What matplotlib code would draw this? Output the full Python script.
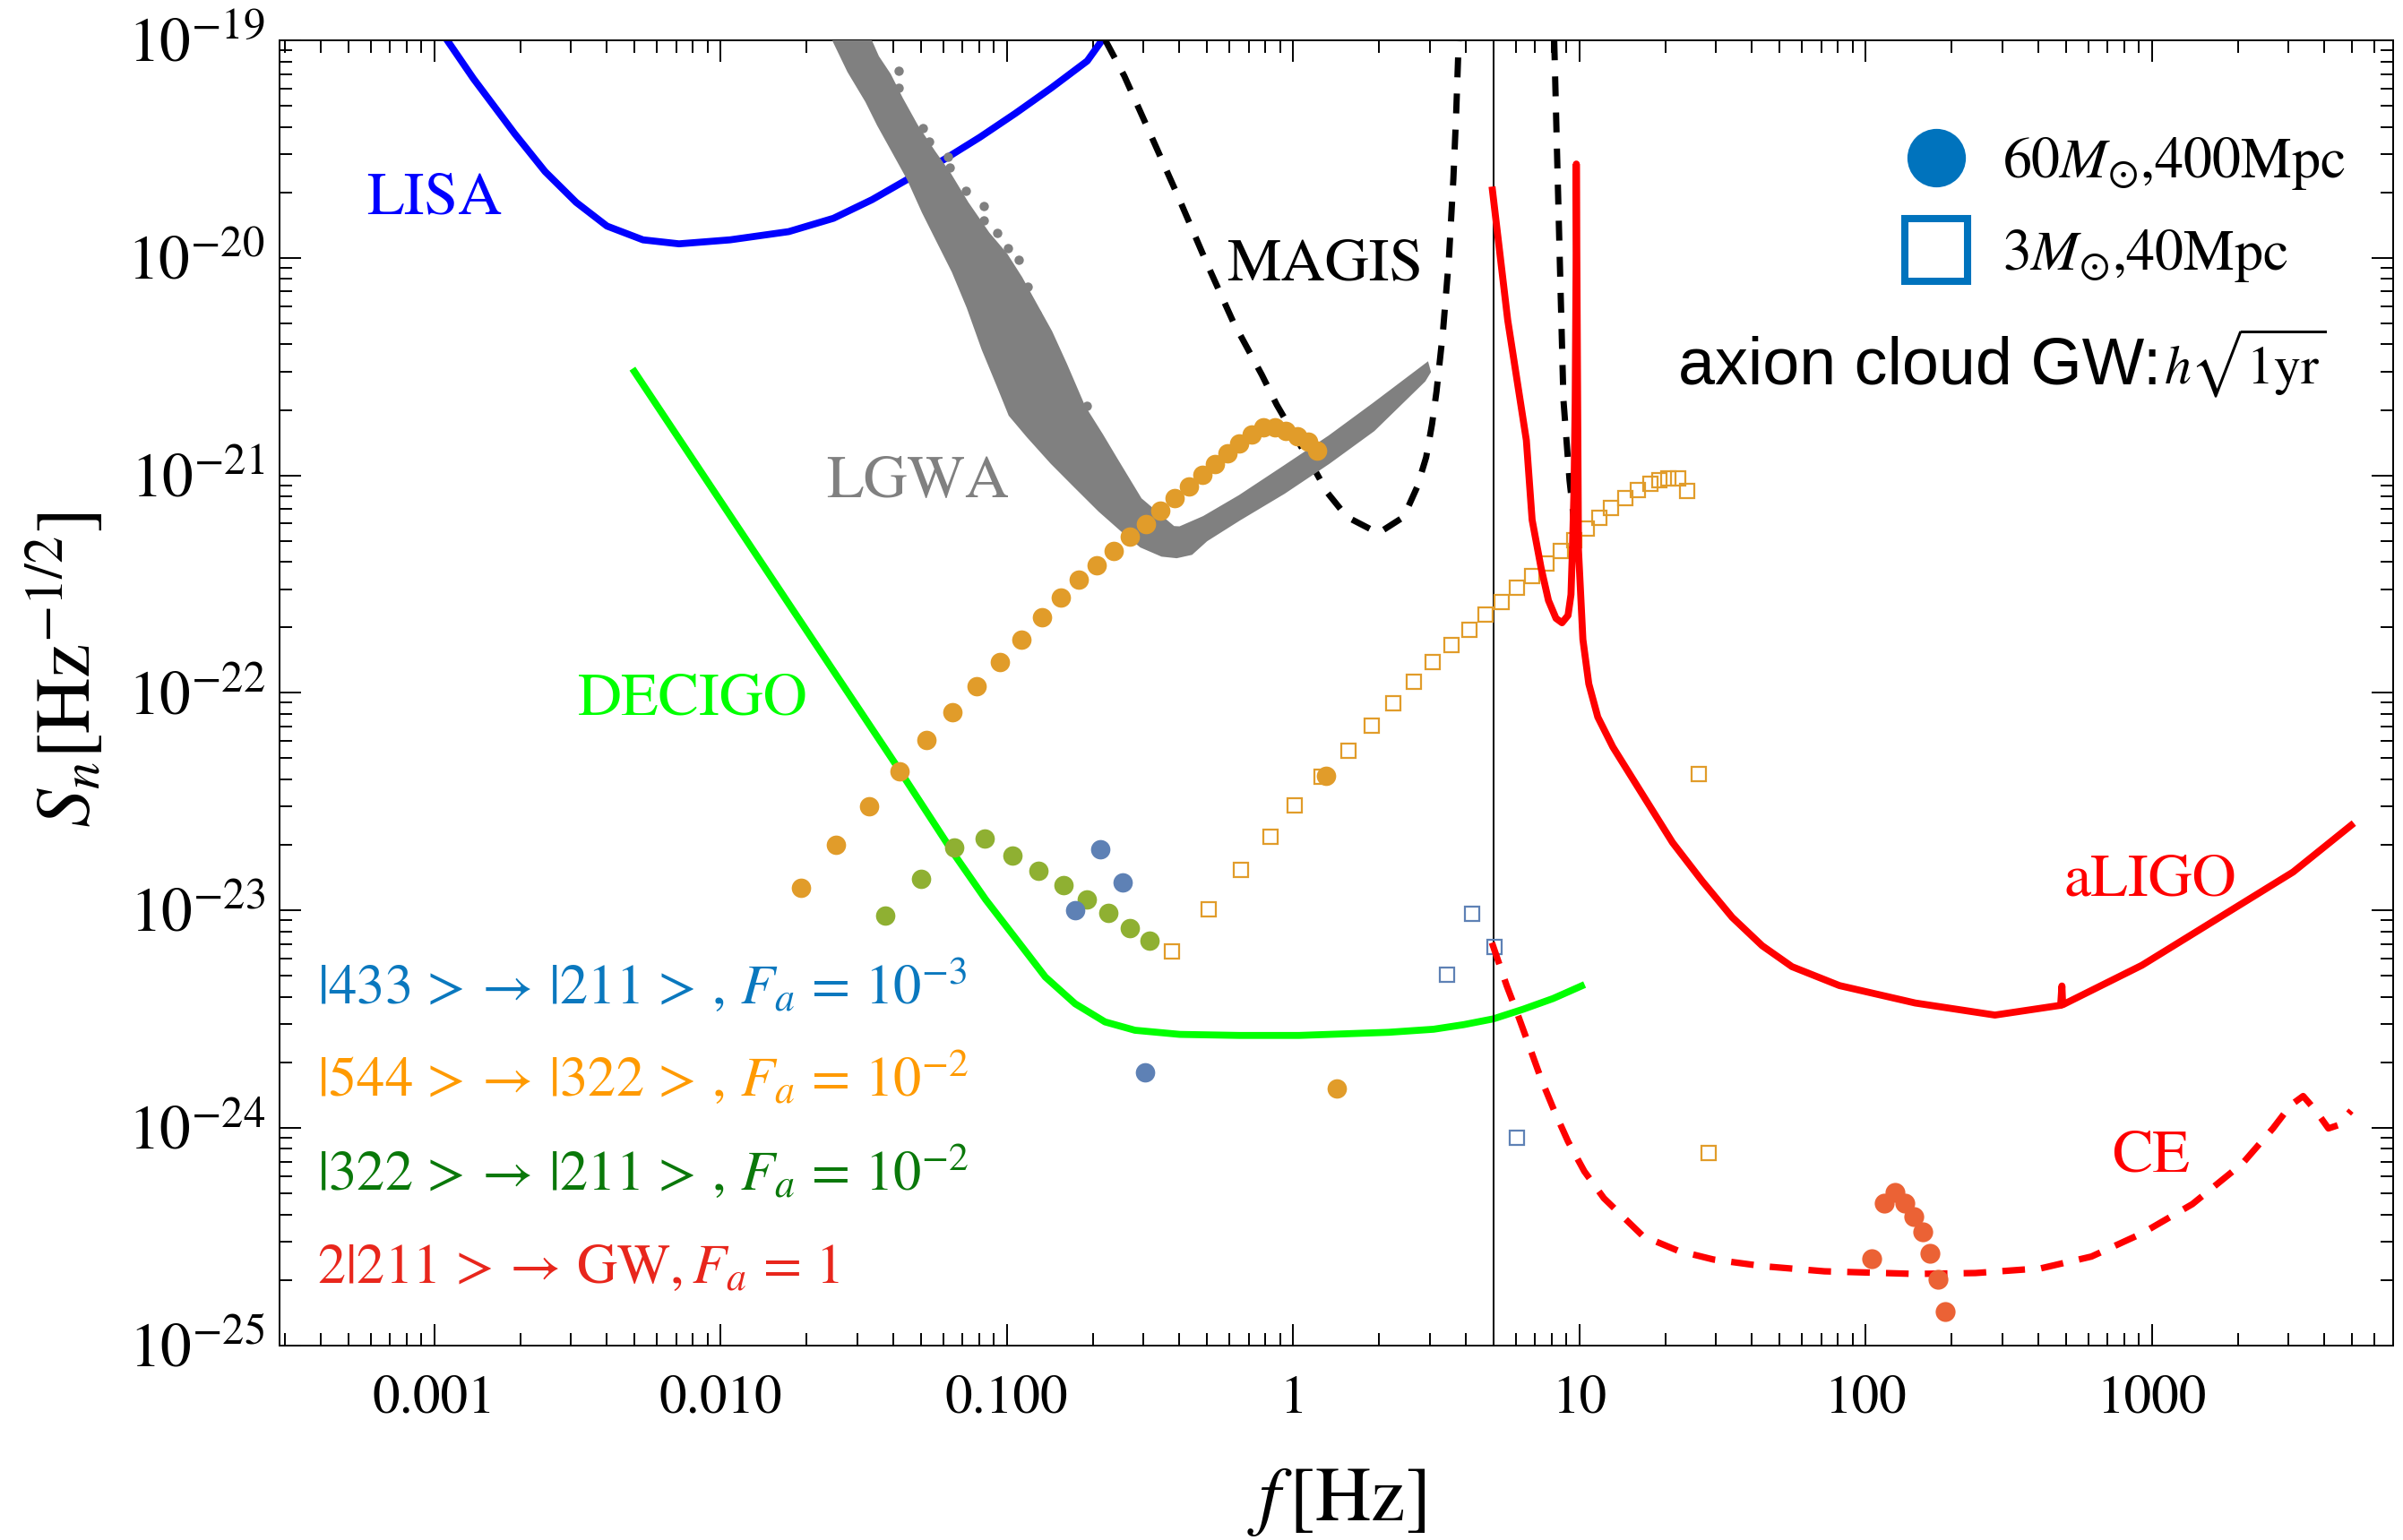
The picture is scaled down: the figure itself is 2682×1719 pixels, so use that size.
import numpy as np
import matplotlib
matplotlib.use("Agg")
import matplotlib.pyplot as plt
from matplotlib.lines import Line2D
from matplotlib.ticker import FixedLocator, FixedFormatter, LogLocator, NullFormatter

plt.rcParams['font.family'] = ['STIXGeneral', 'DejaVu Serif']
plt.rcParams['mathtext.fontset'] = 'stix'

# ---- detector curves ----
lisa_f = [1.11e-3, 1.37e-3, 1.91e-3, 2.44e-3, 3.13e-3, 4.01e-3, 5.36e-3, 7.16e-3, 1.08e-2,
          1.73e-2, 2.48e-2, 3.38e-2, 4.51e-2, 6.03e-2, 8.04e-2, 0.107, 0.143, 0.191, 0.215]
lisa_h = [1.0e-19, 6.67e-20, 3.72e-20, 2.49e-20, 1.80e-20, 1.40e-20, 1.21e-20, 1.16e-20, 1.21e-20,
          1.32e-20, 1.52e-20, 1.85e-20, 2.30e-20, 2.83e-20, 3.58e-20, 4.61e-20, 6.04e-20, 8.04e-20, 1.0e-19]

decigo_f = [5.0e-3, 1.727e-2, 4.10e-2, 6.55e-2, 8.44e-2, 0.1072, 0.1363, 0.1733, 0.2203, 0.2803,
            0.4018, 0.6494, 1.05, 2.159, 3.096, 3.936, 5.006, 6.364, 8.09, 10.17]
decigo_h = [3.0e-21, 2.58e-22, 4.67e-23, 1.81e-23, 1.12e-23, 7.45e-24, 4.94e-24, 3.72e-24, 3.07e-24, 2.81e-24,
            2.69e-24, 2.66e-24, 2.66e-24, 2.75e-24, 2.84e-24, 2.98e-24, 3.17e-24, 3.51e-24, 3.93e-24, 4.49e-24]

magis_f = [0.221, 0.2573, 0.3158, 0.3977, 0.4989, 0.6194, 0.7776, 0.877, 1.185, 1.320, 1.542, 1.985,
           2.435, 2.714, 2.916, 3.058, 3.17, 3.339, 3.50, 3.63, 3.71, 3.79]
magis_h = [1.0e-19, 6.86e-20, 3.76e-20, 1.90e-20, 9.48e-21, 5.04e-21, 2.90e-21, 2.11e-21, 1.07e-21, 8.30e-22,
           6.44e-22, 5.42e-22, 6.44e-22, 8.85e-22, 1.21e-21, 1.72e-21, 2.43e-21, 4.58e-21, 9.79e-21, 2.30e-20,
           4.47e-20, 1.0e-19]
magis2_f = [8.17, 8.37, 8.58, 8.80, 9.24, 9.70]
magis2_h = [1.0e-19, 2.82e-20, 7.91e-21, 2.22e-21, 9.50e-22, 5.31e-22]

aligo_f = [4.97, 5.62, 6.53, 6.84, 7.35, 7.80, 8.29, 8.70, 9.13, 9.35, 9.46, 9.58, 9.67, 9.74, 9.76,
           9.93, 10.29, 10.79, 11.60, 13.09, 16.64, 21.16, 26.90, 34.19, 43.5, 55.3, 81.0, 149.0, 283.0,
           480.0, 485.0, 488.0, 923.0, 1696.0, 3113.0, 4966.0]
aligo_h = [2.05e-20, 5.18e-21, 1.45e-21, 6.24e-22, 3.76e-22, 2.66e-22, 2.20e-22, 2.10e-22, 2.27e-22, 2.83e-22,
           4.55e-22, 8.57e-22, 2.14e-21, 8.91e-21, 2.70e-20, 4.55e-22, 1.76e-22, 1.10e-22, 7.74e-23, 5.64e-23,
           3.40e-23, 2.05e-23, 1.36e-23, 9.29e-24, 6.88e-24, 5.51e-24, 4.51e-24, 3.75e-24, 3.30e-24,
           3.66e-24, 4.49e-24, 3.68e-24, 5.59e-24, 9.16e-24, 1.50e-23, 2.46e-23]

ce_f = [4.95, 5.58, 6.06, 6.68, 7.35, 8.19, 9.13, 10.41, 12.18, 16.68, 22.16, 29.44, 44.1, 71.8, 149.0,
        242.0, 410.0, 615.0, 923.0, 1385.0, 2075.0, 2648.0, 3052.0, 3376.0, 3737.0, 4137.0, 4487.0, 4965.0]
ce_h = [7.10e-24, 4.49e-24, 3.38e-24, 2.38e-24, 1.68e-24, 1.19e-24, 8.66e-25, 6.31e-25, 4.75e-25, 3.18e-25,
        2.72e-25, 2.48e-25, 2.31e-25, 2.19e-25, 2.13e-25, 2.15e-25, 2.26e-25, 2.56e-25, 3.27e-25, 4.46e-25,
        6.87e-25, 9.94e-25, 1.27e-24, 1.40e-24, 1.20e-24, 9.94e-25, 1.03e-24, 1.20e-24]

# LGWA band outline (lower-left edge, right branch, upper-right edge)
lgwa_f = [0.02475, 0.02793, 0.03226, 0.03550, 0.04004, 0.04513, 0.05088, 0.05741, 0.06471, 0.07298,
          0.08231, 0.09278, 0.1022, 0.1180, 0.1430, 0.1733, 0.2101, 0.2544, 0.2938, 0.3478, 0.3921,
          0.4422, 0.4989, 0.6494, 0.9311, 1.335, 1.914, 2.880, 3.008, 2.949, 1.914, 1.335, 0.9311,
          0.6494, 0.4868, 0.4018, 0.3829, 0.2938, 0.2427, 0.2151, 0.1863, 0.1612, 0.1430, 0.1268,
          0.1125, 0.0997, 0.08634, 0.07298, 0.06318, 0.05602, 0.04851, 0.04303, 0.03906, 0.03550, 0.03351]
lgwa_h = [1.0e-19, 7.19e-20, 5.24e-20, 4.07e-20, 3.06e-20, 2.30e-20, 1.62e-20, 1.18e-20, 8.63e-21, 5.90e-21,
          3.79e-21, 2.59e-21, 1.89e-21, 1.51e-21, 1.14e-21, 8.84e-22, 6.87e-22, 5.50e-22, 4.70e-22, 4.27e-22,
          4.20e-22, 4.35e-22, 5.02e-22, 6.25e-22, 8.30e-22, 1.14e-21, 1.61e-21, 2.72e-21, 2.99e-21, 3.29e-21,
          2.14e-21, 1.51e-21, 1.10e-21, 8.04e-22, 6.44e-22, 5.77e-22, 5.79e-22, 7.79e-22, 1.18e-21, 1.54e-21,
          2.08e-21, 3.24e-21, 4.58e-21, 6.09e-21, 8.10e-21, 1.04e-20, 1.30e-20, 1.79e-20, 2.45e-20, 3.06e-20,
          4.07e-20, 5.41e-20, 6.97e-20, 8.42e-20, 1.0e-19]
# loose LGWA points on the upper-right side of the band
lgwa_dot_f = [0.04181, 0.04181, 0.05088, 0.05341, 0.06241, 0.06318, 0.07208, 0.08327, 0.08327, 0.09278,
              0.1010, 0.1098, 0.1180, 0.1268, 0.1501, 0.1908]
lgwa_dot_h = [7.23e-20, 6.04e-20, 3.94e-20, 3.42e-20, 2.92e-20, 2.61e-20, 2.03e-20, 1.73e-20, 1.48e-20, 1.30e-20,
              1.11e-20, 9.79e-21, 7.37e-21, 5.54e-21, 3.56e-21, 2.08e-21]

# ---- axion cloud GW signals ----
# 60 Msun, 400 Mpc (filled circles)
orange_dot_f = [0.01910, 0.02529, 0.03296, 0.04220, 0.05252, 0.06471, 0.07862, 0.09461, 0.1125, 0.1325,
                0.1544, 0.1788, 0.2060, 0.2362, 0.2696, 0.3055, 0.3436, 0.3865, 0.4313, 0.4811, 0.5334,
                0.5902, 0.6494, 0.7154, 0.7873, 0.8663, 0.9427, 1.033, 1.129, 1.213, 1.304, 1.419]
orange_dot_h = [1.269e-23, 2.003e-23, 3.013e-23, 4.34e-23, 6.05e-23, 8.17e-23, 1.076e-22, 1.39e-22, 1.762e-22,
                2.22e-22, 2.75e-22, 3.31e-22, 3.86e-22, 4.51e-22, 5.21e-22, 5.99e-22, 6.87e-22, 7.86e-22,
                8.91e-22, 1.004e-21, 1.132e-21, 1.264e-21, 1.396e-21, 1.534e-21, 1.656e-21, 1.665e-21,
                1.603e-21, 1.514e-21, 1.422e-21, 1.300e-21, 4.14e-23, 1.514e-24]
green_dot_f = [0.03770, 0.05029, 0.06552, 0.08372, 0.1046, 0.1292, 0.1581, 0.1907, 0.2268, 0.2690, 0.3158]
green_dot_h = [9.44e-24, 1.402e-23, 1.954e-23, 2.134e-23, 1.789e-23, 1.517e-23, 1.303e-23, 1.124e-23,
               9.75e-24, 8.30e-24, 7.26e-24]
blue_dot_f = [0.2116, 0.2544, 0.1733, 0.3047]
blue_dot_h = [1.912e-23, 1.350e-23, 1.006e-23, 1.793e-24]
red_dot_f = [105.3, 115.9, 126.6, 137.1, 147.4, 158.0, 168.2, 179.4, 189.2]
red_dot_h = [2.51e-25, 4.50e-25, 5.06e-25, 4.50e-25, 3.89e-25, 3.32e-25, 2.66e-25, 2.02e-25, 1.43e-25]

# 3 Msun, 40 Mpc (open squares)
orange_sq_f = [0.3783, 0.5060, 0.6575, 0.8357, 1.013, 1.257, 1.561, 1.883, 2.238, 2.636, 3.074, 3.576,
               4.130, 4.712, 5.354, 6.064, 6.839, 7.675, 8.596, 9.618, 10.59, 11.74, 12.93, 14.47, 15.97,
               17.65, 19.03, 20.46, 22.08, 23.80, 26.08, 28.23]
orange_sq_h = [6.46e-24, 1.015e-23, 1.531e-23, 2.184e-23, 3.044e-23, 4.11e-23, 5.43e-23, 7.04e-23, 8.92e-23,
               1.121e-22, 1.39e-22, 1.664e-22, 1.956e-22, 2.284e-22, 2.615e-22, 3.035e-22, 3.457e-22,
               3.948e-22, 4.48e-22, 5.05e-22, 5.68e-22, 6.35e-22, 7.09e-22, 7.86e-22, 8.55e-22, 9.11e-22,
               9.51e-22, 9.71e-22, 9.71e-22, 8.46e-22, 4.24e-23, 7.68e-25]
blue_sq_f = [4.211, 3.45, 5.064, 6.038]
blue_sq_h = [9.68e-24, 5.06e-24, 6.81e-24, 9.03e-25]

f_cut = 5.0

x_ticks = [1e-3, 1e-2, 1e-1, 1, 10, 100, 1000]
x_ticklabels = ['0.001', '0.010', '0.100', '1', '10', '100', '1000']
y_ticks = [1e-25, 1e-24, 1e-23, 1e-22, 1e-21, 1e-20, 1e-19]
y_ticklabels = [r'$10^{-25}$', r'$10^{-24}$', r'$10^{-23}$', r'$10^{-22}$',
                r'$10^{-21}$', r'$10^{-20}$', r'$10^{-19}$']

c_or = '#E19C2A'
c_gr = '#8FB032'
c_bl = '#5E81B5'
c_rd = '#EB6235'

fig = plt.figure(figsize=(26.82, 17.19), dpi=100)
ax = fig.add_axes([0.1165, 0.1264, 0.8793, 0.8474])
ax.set_xscale('log')
ax.set_yscale('log')

ax.plot(lisa_f, lisa_h, color='#0000FF', lw=5.6, zorder=2, solid_joinstyle='round')
ax.fill(lgwa_f, lgwa_h, color='#808080', lw=1.5, zorder=3)
ax.plot(lgwa_dot_f, lgwa_dot_h, ls='none', marker='o', ms=7.5, mfc='#808080', mew=0, zorder=3)
ax.plot(decigo_f, decigo_h, color='#00FF00', lw=5.6, zorder=2, solid_joinstyle='round')
ax.plot(magis_f, magis_h, color='black', lw=5.0, dashes=(3.2, 2.6), zorder=2.5)
ax.plot(magis2_f, magis2_h, color='black', lw=5.0, dashes=(3.2, 2.6), zorder=2.5)
ax.axvline(f_cut, color='black', lw=1.4, zorder=2)

ax.plot(orange_sq_f, orange_sq_h, ls='none', marker='s', ms=11, mfc='none', mec=c_or, mew=1.6, zorder=4)
ax.plot(blue_sq_f, blue_sq_h, ls='none', marker='s', ms=11, mfc='none', mec=c_bl, mew=1.6, zorder=4)
ax.plot(ce_f, ce_h, color='#FF0000', lw=5.2, dashes=(3.5, 2.5), zorder=4.5)
ax.plot(orange_dot_f, orange_dot_h, ls='none', marker='o', ms=15.6, mfc=c_or, mew=0, zorder=5)
ax.plot(green_dot_f, green_dot_h, ls='none', marker='o', ms=15.6, mfc=c_gr, mew=0, zorder=5)
ax.plot(blue_dot_f, blue_dot_h, ls='none', marker='o', ms=15.6, mfc=c_bl, mew=0, zorder=5)
ax.plot(red_dot_f, red_dot_h, ls='none', marker='o', ms=16, mfc=c_rd, mew=0, zorder=5)
ax.plot(aligo_f, aligo_h, color='#FF0000', lw=5.6, zorder=5.5, solid_joinstyle='round')

ax.set_xlim(2.89e-4, 6950)
ax.set_ylim(1e-25, 1e-19)

ax.xaxis.set_major_locator(FixedLocator(x_ticks))
ax.xaxis.set_major_formatter(FixedFormatter(x_ticklabels))
ax.xaxis.set_minor_locator(LogLocator(base=10, subs=np.arange(2, 10), numticks=30))
ax.xaxis.set_minor_formatter(NullFormatter())
ax.yaxis.set_major_locator(FixedLocator(y_ticks))
ax.yaxis.set_major_formatter(FixedFormatter(y_ticklabels))
ax.yaxis.set_minor_locator(LogLocator(base=10, subs=np.arange(2, 10), numticks=30))
ax.yaxis.set_minor_formatter(NullFormatter())
ax.tick_params(which='both', direction='in', top=True, right=True, width=1.4)
ax.tick_params(which='major', length=17)
ax.tick_params(which='minor', length=10)
ax.tick_params(axis='x', labelsize=44, pad=24)
ax.tick_params(axis='y', labelsize=50, pad=12)
for sp in ax.spines.values():
    sp.set_linewidth(1.4)

ax.set_xlabel(r'$f\,[\mathrm{Hz}]$', fontsize=62)
ax.xaxis.set_label_coords(0.5, -0.134)
ax.xaxis.label.set_verticalalignment('baseline')
ax.set_ylabel(r'$S_n[\mathrm{Hz}^{-1/2}]$', fontsize=62)
ax.yaxis.set_label_coords(-0.1007, 0.5174)
ax.yaxis.label.set_verticalalignment('center')

# detector names
ax.text(1.0e-3, 1.589e-20, 'LISA', color='#0000FF', fontsize=49, ha='center', va='baseline')
ax.text(1.29, 7.91e-21, 'MAGIS', color='black', fontsize=49, ha='center', va='baseline')
ax.text(0.0488, 7.92e-22, 'LGWA', color='#808080', fontsize=49, ha='center', va='baseline')
ax.text(7.99e-3, 7.96e-23, 'DECIGO', color='#00FF00', fontsize=49, ha='center', va='baseline')
ax.text(989, 1.17e-23, 'aLIGO', color='#FF0000', fontsize=49, ha='center', va='baseline')
ax.text(991, 6.29e-25, 'CE', color='#FF0000', fontsize=49, ha='center', va='baseline')

# transition labels
ax.text(3.9e-4, 3.75e-24, r'$|433\,>\rightarrow\,|211\,>\,,\,F_a\,=\,10^{-3}$', color='#0A78BE',
        fontsize=45, ha='left', va='baseline')
ax.text(3.9e-4, 1.40e-24, r'$|544\,>\rightarrow\,|322\,>\,,\,F_a\,=\,10^{-2}$', color='#FF9A00',
        fontsize=45, ha='left', va='baseline')
ax.text(3.9e-4, 5.21e-25, r'$|322\,>\rightarrow\,|211\,>\,,\,F_a\,=\,10^{-2}$', color='#0A780A',
        fontsize=45, ha='left', va='baseline')
ax.text(3.9e-4, 1.94e-25, r'$2|211\,>\rightarrow\,\mathrm{GW},F_a\,=\,1$', color='#E8261C',
        fontsize=45, ha='left', va='baseline')

# legend for source type
handles = [Line2D([], [], ls='none', marker='o', ms=47, mfc='#0073BD', mec='#0073BD', mew=0),
           Line2D([], [], ls='none', marker='s', ms=50, mfc='none', mec='#0073BD', mew=5.8)]
labels = [r'$60M_{\odot}$,400Mpc', r'$3M_{\odot}$,40Mpc']
ax.legend(handles, labels, loc='upper right', bbox_to_anchor=(0.9761, 0.912),
          bbox_transform=fig.transFigure, frameon=False, fontsize=46, handlelength=1.0,
          handletextpad=0.66, labelspacing=0.62, borderpad=0, borderaxespad=0)

ax.text(0.8905, 0.7367, 'axion cloud GW:', family=['Liberation Sans', 'DejaVu Sans'],
        fontsize=53, ha='right', va='baseline', transform=ax.transAxes)
ax.text(0.8915, 0.7367, r'$h\sqrt{1\mathrm{yr}}$', fontsize=43, ha='left', va='baseline',
        transform=ax.transAxes)

fig.savefig('out.png', dpi=100)
